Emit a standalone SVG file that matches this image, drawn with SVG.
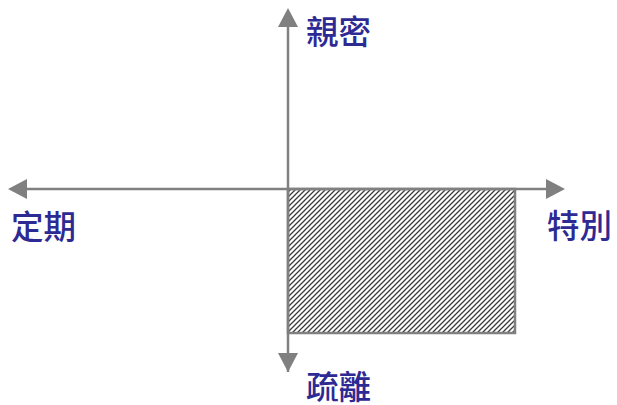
<svg xmlns="http://www.w3.org/2000/svg" width="617" height="405" viewBox="0 0 617 405">
<style>
.ax{stroke:#808080;stroke-width:2.5;fill:none}
.lbl{font-family:"Noto Sans CJK TC","Noto Sans CJK SC",sans-serif;font-size:32.5px;font-weight:500;fill:#2e2a94}
</style>
<defs>
<pattern id="hatch" patternUnits="userSpaceOnUse" width="5" height="5">
<path d="M-1,6 L6,-1 M-1,1 L1,-1 M4,6 L6,4" stroke="#3a3a3a" stroke-width="1.3"/>
</pattern>
</defs>
<g id="region">
<rect x="288" y="189" width="227" height="144" fill="url(#hatch)" stroke="#808080" stroke-width="2.5"/>
</g>
<g id="connectors">
<line class="ax" x1="288" y1="372" x2="288" y2="26"/>
<path d="M288,8 L278,27 L298,27 z" fill="#808080"/>
<path d="M288,372 L278,353 L298,353 z" fill="#808080"/>
<line class="ax" x1="26" y1="189" x2="547" y2="189"/>
<path d="M8,189 L27,179 L27,199 z" fill="#808080"/>
<path d="M565,189 L546,179 L546,199 z" fill="#808080"/>
</g>
<g id="n-top"><text class="lbl" x="306" y="43.5">親密</text></g>
<g id="n-left"><text class="lbl" x="11" y="239">定期</text></g>
<g id="n-right"><text class="lbl" x="547" y="238">特別</text></g>
<g id="n-bottom"><text class="lbl" x="306" y="399">疏離</text></g>
</svg>
